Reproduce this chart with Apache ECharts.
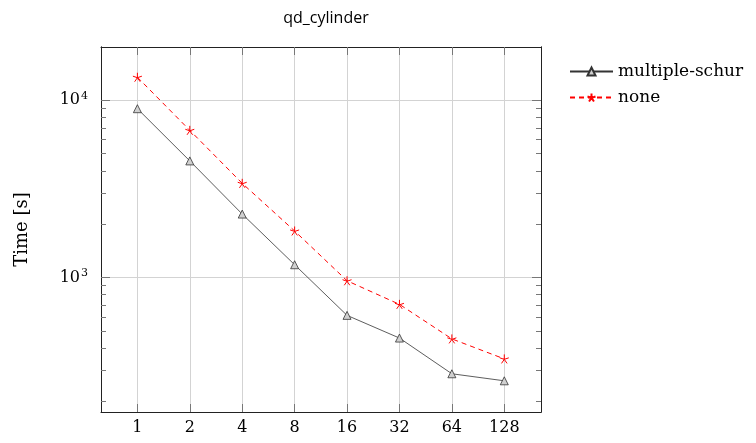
<!DOCTYPE html>
<html>
<head>
<meta charset="utf-8">
<script src="https://cdn.jsdelivr.net/npm/echarts@6/dist/echarts.min.js"></script>
<style>
  html, body { margin: 0; padding: 0; background: #fff; }
  #chart { width: 756px; height: 443px; }
</style>
</head>
<body>
<div id="chart"></div>
<script>
// data
var procs = [1, 2, 4, 8, 16, 32, 64, 128];
var multipleSchur = [8970, 4550, 2280, 1180, 611, 455, 286, 261];
var none = [13500, 6770, 3400, 1830, 958, 705, 450, 347];
var majorTicks = [1000, 10000];
var minorTicks = [200, 300, 400, 500, 600, 700, 800, 900, 2000, 3000, 4000, 5000, 6000, 7000, 8000, 9000];

var serif = '"DejaVu Serif", serif';
var chart = echarts.init(document.getElementById('chart'));

function pairs(ys) {
  return procs.map(function (x, i) { return [x, ys[i]]; });
}

var starPath = 'path://M0,0L0,-5M0,0L4.76,-1.55M0,0L2.94,4.05M0,0L-2.94,4.05M0,0L-4.76,-1.55';

var yBase = {
  type: 'log', logBase: 10, min: 174, max: 20000,
  axisLine: { show: true, lineStyle: { color: '#222', width: 1 } },
  axisLabel: { show: false },
  splitLine: { show: false }
};

function yAx(pos, ticks, len, extra) {
  return Object.assign({}, yBase, {
    position: pos,
    axisTick: { show: true, inside: true, length: len, customValues: ticks, lineStyle: { color: '#777' } }
  }, extra || {});
}

var xBase = {
  type: 'log', logBase: 2, min: 0.618, max: 208,
  axisLine: { show: true, lineStyle: { color: '#222', width: 1 } },
  axisTick: { show: true, inside: true, length: 8, customValues: procs, lineStyle: { color: '#777' } },
  axisLabel: { show: false },
  splitLine: { show: false }
};

var option = {
  animation: false,
  title: {
    text: 'qd_cylinder',
    left: 321, top: 5, textAlign: 'center',
    textStyle: { fontFamily: '"Open Sans", sans-serif', fontWeight: 'normal', fontSize: 16, color: '#000' }
  },
  legend: {
    orient: 'vertical', left: 569, top: 63, padding: 0,
    itemWidth: 43, itemHeight: 10, itemGap: 9,
    textStyle: { fontFamily: serif, fontSize: 17, color: '#000' },
    data: ['multiple-schur', 'none']
  },
  grid: { left: 101, right: 215, top: 47, bottom: 31 },
  xAxis: [
    Object.assign({}, xBase, {
      position: 'bottom',
      axisLabel: {
        show: true, customValues: procs, margin: 8,
        fontFamily: serif, fontSize: 16, color: '#000'
      },
      splitLine: { show: true, lineStyle: { color: '#d3d3d3', width: 1 } }
    }),
    Object.assign({}, xBase, { position: 'top' })
  ],
  yAxis: [
    yAx('left', majorTicks, 9, {
      name: 'Time [s]', nameLocation: 'middle', nameGap: 70, nameRotate: 90,
      nameTextStyle: { fontFamily: serif, fontSize: 18, color: '#000' },
      axisLabel: {
        show: true, customValues: majorTicks, margin: 13,
        formatter: function (v) {
          return '{b|10}{e|' + Math.round(Math.log10(v)) + '}';
        },
        rich: {
          b: { fontFamily: serif, fontSize: 16, color: '#000' },
          e: { fontFamily: serif, fontSize: 11, color: '#000', padding: [0, 0, 9, 1] }
        }
      },
      splitLine: { show: true, lineStyle: { color: '#d3d3d3', width: 1 } }
    }),
    yAx('right', majorTicks, 9),
    yAx('left', minorTicks, 5),
    yAx('right', minorTicks, 5)
  ],
  series: [
    {
      name: 'multiple-schur', type: 'line',
      data: pairs(multipleSchur),
      symbol: 'triangle', symbolSize: 8,
      itemStyle: { color: '#d0d0d0', borderColor: '#333', borderWidth: 0.8 },
      lineStyle: { color: '#333', width: 0.8 }
    },
    {
      name: 'none', type: 'line',
      data: pairs(none),
      symbol: starPath, symbolSize: 9,
      itemStyle: { color: 'none', borderColor: '#ff0000', borderWidth: 1 },
      lineStyle: { color: '#ff0000', width: 1, type: [5, 4] }
    }
  ]
};

chart.setOption(option);
</script>
</body>
</html>
